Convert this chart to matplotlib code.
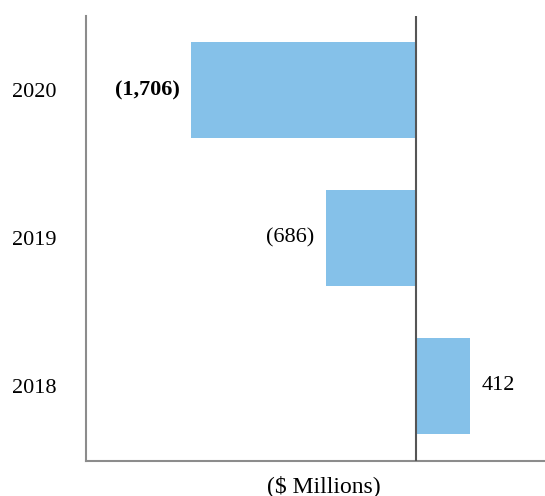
import matplotlib
matplotlib.use("Agg")
import matplotlib.pyplot as plt

years = ["2018", "2019", "2020"]
values = [412, -686, -1706]
labels = ["412", "(686)", "(1,706)"]
bold = [False, False, True]

plt.rcParams['font.family'] = ['Liberation Serif', 'DejaVu Serif']

fig = plt.figure(figsize=(5.45, 4.96), dpi=100)
ax = fig.add_axes([86/545, 35/496, 1 - 86/545, (461-16)/496])

pos = list(range(len(years)))
bars = ax.barh(pos, values, height=0.65, color="#85C1E9", zorder=2)
ax.set_xlim(-2504, 979)
ax.set_ylim(-0.511, 2.502)
ax.axvline(0, color="#555555", lw=1.5, zorder=3)

for p, v, lab, b in zip(pos, values, labels, bold):
    if v < 0:
        ax.annotate(lab, (v, p), xytext=(-8, 0), textcoords="offset points",
                    ha="right", va="center", fontsize=16,
                    fontweight="bold" if b else "normal")
    else:
        ax.annotate(lab, (v, p), xytext=(8, 0), textcoords="offset points",
                    ha="left", va="center", fontsize=16,
                    fontweight="bold" if b else "normal")

ax.set_yticks(pos)
ax.set_yticklabels(years, fontsize=16)
ax.tick_params(axis="y", length=0, pad=21)
ax.set_xticks([])
ax.text((324 - 86) / (545 - 86), -(486 - 461) / 445, "($ Millions)",
        transform=ax.transAxes, ha="center", va="center", fontsize=17)

for s in ["top", "right"]:
    ax.spines[s].set_visible(False)
for s in ["left", "bottom"]:
    ax.spines[s].set_color("#8c8c8c")
    ax.spines[s].set_linewidth(1.5)

fig.savefig("out.png", dpi=100)
